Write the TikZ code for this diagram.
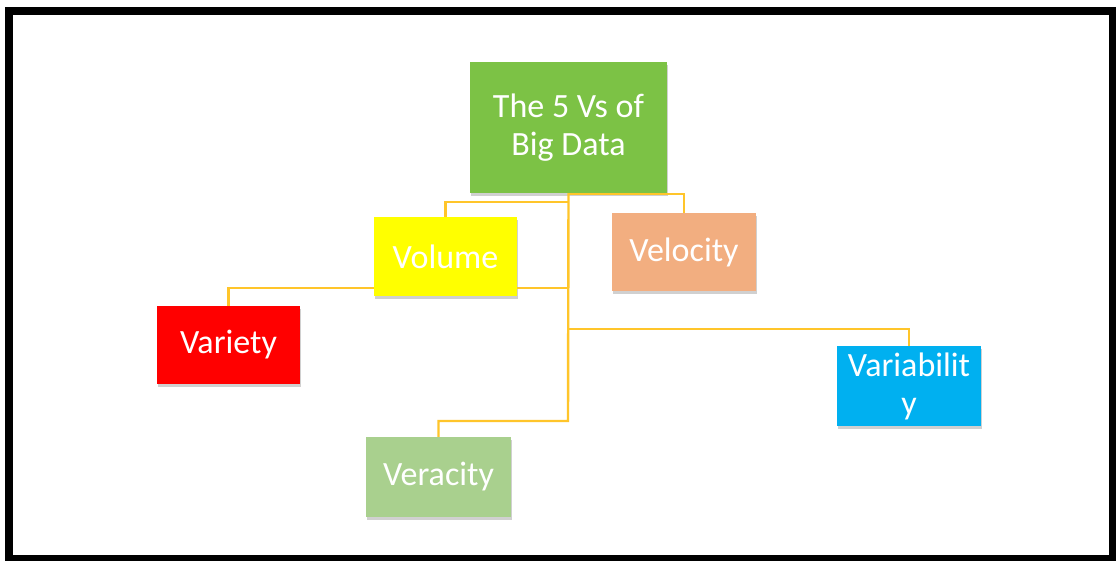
\documentclass[tikz,border=0pt]{standalone}
\usepackage{fontspec}
\setmainfont{Carlito}
\usetikzlibrary{shadows}
\definecolor{cTitle}{HTML}{7CC245}
\definecolor{cVol}{HTML}{FFFF00}
\definecolor{cVel}{HTML}{F2AE80}
\definecolor{cVar}{HTML}{FF0000}
\definecolor{cVer}{HTML}{A9D08E}
\definecolor{cVbl}{HTML}{00B0F0}
\definecolor{cLine}{HTML}{FFC52A}
\tikzset{
  vbox/.style={rectangle, inner sep=0pt, align=center, text=white,
    font=\fontsize{34}{38}\selectfont,
    drop shadow={shadow xshift=1pt, shadow yshift=-3pt, opacity=0.3, fill=black!60}},
  conn/.style={draw=cLine, line width=2.4pt}
}
\begin{document}
\begin{tikzpicture}[x=1pt,y=-1pt]
\useasboundingbox (0,0) rectangle (1116,560);
\fill[black] (5,7) rectangle (1120,564);
\fill[white] (13,15) rectangle (1109,555);
\node[vbox, fill=cTitle, minimum width=197pt, minimum height=131pt] (big) at (568.5,127.5) {The 5 Vs of\\Big Data};
\node[vbox, fill=cVol, minimum width=143pt, minimum height=79pt] (volume) at (445.5,256.5) {Volume};
\node[vbox, fill=cVel, minimum width=144pt, minimum height=78pt] (velocity) at (684,252) {Velocity};
\node[vbox, fill=cVar, minimum width=143pt, minimum height=78pt] (variety) at (228.5,345) {Variety};
\node[vbox, fill=cVer, minimum width=145pt, minimum height=80pt] (veracity) at (438.5,477) {Veracity};
\node[vbox, fill=cVbl, minimum width=144pt, minimum height=80pt] (variability) at (909,386) {Variabilit\\y};
\coordinate (j3) at (568,329);
\coordinate (j4) at (568,421);
\draw[conn] (big.south) -- (j4) -| (veracity.north);
\draw[conn] (big.south) ++(0,9) -| (volume.north);
\draw[conn] (big.south) ++(0,1) -| (velocity.north);
\draw[conn] ([yshift=8pt]volume.south east) -- ([yshift=8pt]volume.south east -| big.south);
\draw[conn] ([yshift=8pt]volume.south west) -| (variety.north);
\draw[conn] (j3) -| (variability.north);
\end{tikzpicture}
\end{document}
